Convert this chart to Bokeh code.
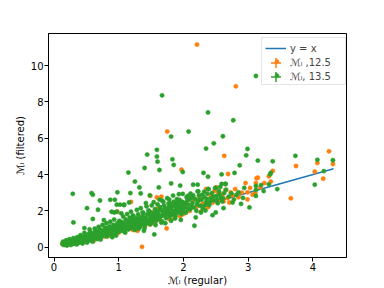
from bokeh.plotting import figure
from bokeh.models import Range1d, Legend, LegendItem, FixedTicker
from bokeh.embed import file_html
from bokeh.resources import INLINE

# ---------------- data ----------------
x_ticks = [0, 1, 2, 3, 4]
y_ticks = [0, 2, 4, 6, 8, 10]
yx_line = [0.12, 4.32]

green_band_x = [0.13, 0.14, 0.15, 0.16, 0.18, 0.19, 0.20, 0.21, 0.22, 0.24, 0.25, 0.26, 0.27, 0.28, 0.30, 0.31, 0.33, 0.34, 0.35, 0.36, 0.37, 0.39, 0.40, 0.41, 0.42, 0.43, 0.44, 0.45, 0.46, 0.47, 0.48, 0.49, 0.50, 0.51,
                0.52, 0.53, 0.55, 0.55, 0.56, 0.58, 0.59, 0.60, 0.61, 0.62, 0.63, 0.64, 0.65, 0.67, 0.68, 0.69, 0.70, 0.71, 0.72, 0.73, 0.74, 0.75, 0.76, 0.77, 0.79, 0.80, 0.81, 0.82, 0.83, 0.85, 0.86, 0.87, 0.88, 0.89, 0.90, 0.91, 0.92, 0.93, 0.94, 0.95, 0.96, 0.97, 0.98, 0.99, 1.00,
                1.01, 1.02, 1.03, 1.05, 1.06, 1.07, 1.08, 1.09, 1.10, 1.11, 1.12, 1.13, 1.14, 1.15, 1.17, 1.18, 1.19, 1.20, 1.21, 1.22, 1.23, 1.24, 1.25, 1.26, 1.27, 1.28, 1.29, 1.30, 1.31, 1.32, 1.33, 1.34, 1.35, 1.36, 1.37, 1.38, 1.39, 1.40, 1.41, 1.42, 1.43, 1.44, 1.45, 1.46, 1.47, 1.48, 1.49, 1.50,
                1.51, 1.52, 1.53, 1.54, 1.55, 1.56, 1.57, 1.58, 1.59, 1.60, 1.61, 1.62, 1.63, 1.64, 1.65, 1.66, 1.67, 1.68, 1.69, 1.70, 1.71, 1.72, 1.73, 1.74, 1.75, 1.76, 1.77, 1.78, 1.79, 1.80, 1.81, 1.82, 1.83, 1.84, 1.85, 1.86, 1.87, 1.88, 1.89, 1.90, 1.91, 1.92, 1.93, 1.94, 1.95, 1.96, 1.97, 1.98, 1.99, 2.00,
                2.02, 2.04, 2.05, 2.06, 2.08, 2.10, 2.11, 2.12, 2.14, 2.16, 2.17, 2.18, 2.19, 2.20, 2.22, 2.23, 2.24, 2.26, 2.27, 2.28, 2.30, 2.32, 2.34, 2.35, 2.37, 2.39, 2.40, 2.42, 2.44, 2.45, 2.47, 2.49, 2.50, 2.51, 2.53, 2.55, 2.57, 2.58, 2.60, 2.62, 2.63, 2.65, 2.66, 2.70, 2.74, 2.76, 2.78, 2.82, 2.85, 2.89, 2.92, 2.94]
green_band_y = [0.17, 0.30, 0.12, 0.26, 0.20, 0.38, 0.09, 0.15, 0.28, 0.44, 0.22, 0.12, 0.33, 0.18, 0.50, 0.27, 0.38, 0.22, 0.15, 0.55, 0.31, 0.45, 0.26, 0.66, 0.55, 0.37, 0.20, 0.48, 0.30, 0.78, 0.62, 0.41, 0.55, 0.25,
                0.40, 0.72, 0.50, 0.98, 0.84, 0.44, 0.64, 0.30, 0.77, 0.52, 1.02, 0.93, 0.62, 0.45, 0.82, 1.12, 0.67, 0.98, 0.42, 0.56, 0.80, 1.22, 0.90, 0.64, 1.07, 0.74, 1.32, 0.58, 0.95, 0.82, 1.14, 1.40, 0.70, 0.99, 0.55, 0.88, 1.22, 1.52, 0.78, 1.05, 0.64, 0.93, 1.32, 1.12, 0.85,
                1.45, 1.20, 0.95, 1.38, 1.08, 1.68, 0.88, 1.26, 0.80, 1.52, 1.04, 1.82, 1.34, 0.98, 1.62, 1.22, 1.95, 1.44, 1.06, 1.75, 1.68, 1.32, 0.95, 1.14, 1.55, 2.05, 1.38, 1.80, 1.02, 1.20, 1.50, 2.15, 1.66, 1.28, 1.92, 1.88, 1.44, 1.05, 1.22, 1.60, 2.25, 1.78, 1.34, 2.02, 1.98, 1.52, 1.26, 1.70,
                2.30, 1.40, 1.85, 2.48, 1.60, 2.10, 1.22, 1.46, 1.75, 2.36, 2.00, 1.55, 2.62, 2.20, 1.70, 1.35, 1.42, 1.93, 2.50, 2.30, 1.77, 1.32, 1.60, 2.10, 2.70, 1.90, 2.40, 2.62, 1.67, 2.03, 1.45, 2.25, 1.80, 2.84, 2.50, 1.95, 1.58, 1.72, 2.17, 2.65, 2.35, 1.90, 2.92, 2.60, 2.07, 1.50, 1.83, 2.30, 2.00, 2.45,
                2.20, 1.90, 2.75, 2.58, 2.34, 2.08, 2.95, 2.72, 2.44, 2.18, 1.18, 2.66, 1.64, 2.00, 2.52, 3.07, 2.84, 2.28, 1.91, 2.62, 2.12, 2.76, 2.02, 2.48, 2.94, 3.20, 2.32, 2.68, 2.98, 1.76, 2.58, 3.26, 1.91, 2.82, 2.42, 3.08, 3.32, 2.72, 2.52, 2.15, 2.98, 3.48, 3.16, 2.78, 2.96, 2.46, 2.62, 2.88, 3.02, 2.38, 2.71, 3.26]

green_core_x = [0.155, 0.175, 0.195, 0.215, 0.235, 0.255, 0.275, 0.295, 0.315, 0.335, 0.355, 0.375, 0.395, 0.415, 0.435, 0.455, 0.475, 0.495, 0.515, 0.535, 0.555, 0.575, 0.595, 0.615, 0.635, 0.655, 0.675, 0.695, 0.715, 0.735, 0.755, 0.775, 0.795, 0.815, 0.835, 0.855, 0.875, 0.895, 0.915, 0.935, 0.955, 0.975, 0.995,
                1.015, 1.035, 1.055, 1.075, 1.095, 1.115, 1.135, 1.155, 1.175, 1.195, 1.215, 1.235, 1.255, 1.275, 1.295, 1.315, 1.335, 1.355, 1.375, 1.395, 1.415, 1.435, 1.455, 1.475, 1.495, 1.515, 1.535, 1.555, 1.575, 1.595, 1.615, 1.635, 1.655, 1.675, 1.695, 1.715, 1.735, 1.755, 1.775, 1.795, 1.815, 1.835, 1.855, 1.875, 1.895, 1.915, 1.935, 1.955, 1.975, 1.995,
                2.03, 2.07, 2.09, 2.13, 2.15, 2.21, 2.25, 2.29, 2.33, 2.36, 2.41, 2.46, 2.52, 2.56, 2.61]
green_core_y = [0.22, 0.14, 0.25, 0.33, 0.19, 0.30, 0.24, 0.36, 0.20, 0.30, 0.42, 0.24, 0.36, 0.46, 0.29, 0.40, 0.52, 0.33, 0.46, 0.58, 0.36, 0.55, 0.70, 0.48, 0.62, 0.78, 0.56, 0.72, 0.86, 0.64, 0.77, 0.94, 0.70, 0.86, 1.04, 0.74, 0.92, 1.10, 0.80, 0.98, 1.16, 0.86, 1.02,
                1.25, 0.90, 1.18, 1.32, 1.00, 1.24, 1.10, 1.42, 1.05, 1.30, 1.55, 1.18, 1.42, 1.24, 1.60, 1.35, 1.12, 1.48, 1.70, 1.30, 1.52, 1.38, 1.82, 1.42, 1.60, 1.88, 1.52, 1.74, 1.95, 1.58, 1.80, 1.66, 2.04, 1.74, 1.90, 2.15, 1.80, 1.98, 2.20, 1.85, 2.08, 1.95, 2.30, 2.02, 2.22, 2.46, 2.10, 2.28, 2.50, 2.15,
                2.42, 2.12, 2.62, 2.25, 2.85, 2.36, 2.60, 2.88, 2.30, 2.66, 2.50, 2.78, 2.62, 2.88, 2.70]

green_scatter_x = [0.29, 0.58, 0.60, 0.71, 0.98, 0.87, 0.94, 1.18, 1.32, 0.51, 0.68, 0.97, 1.02, 1.085, 0.89, 0.93, 0.97, 0.30, 0.60, 0.77, 0.47, 1.04, 1.08, 1.16, 1.42, 1.34, 1.48, 1.62, 1.81, 1.95, 1.67, 1.79, 1.88, 1.99, 2.07, 2.15, 2.22, 2.22, 2.50, 2.59, 2.65, 2.38, 2.32,
                   1.25, 1.15, 1.40, 1.63, 1.99, 1.83, 1.85, 1.59, 1.59, 1.60, 1.44, 2.31, 2.38, 2.59, 2.79, 2.87, 1.55, 1.39]
green_scatter_y = [2.94, 2.98, 2.89, 2.57, 3.02, 2.61, 2.61, 2.98, 3.29, 2.15, 2.06, 2.34, 2.34, 2.34, 1.95, 1.91, 1.95, 1.36, 1.55, 1.49, 1.05, 1.86, 2.32, 2.46, 2.43, 2.96, 2.85, 3.29, 3.51, 3.39, 2.56, 2.43, 2.43, 2.93, 2.83, 3.44, 3.44, 3.07, 3.26, 3.48, 3.48, 3.20, 3.05,
                   3.61, 4.11, 4.36, 4.25, 4.14, 4.84, 4.53, 5.36, 4.99, 4.71, 5.10, 4.09, 3.88, 4.01, 4.09, 4.51, 0.70, 0.90]

green_right_x = [2.99, 2.97, 3.15, 3.38, 3.73, 4.07, 4.31, 3.35, 3.34, 4.17, 4.03, 3.45, 3.02, 3.12, 3.12, 3.12, 3.20, 3.24, 3.32]
green_right_y = [5.41, 5.06, 4.77, 4.73, 5.03, 4.81, 4.79, 4.09, 4.01, 4.19, 3.44, 3.20, 2.19, 3.37, 3.15, 2.82, 3.42, 3.09, 3.46]

green_high_x = [3.12, 1.67, 2.38, 2.77, 2.08, 1.81, 2.61, 2.47, 2.35]
green_high_y = [9.43, 8.36, 7.42, 6.99, 6.37, 6.09, 6.11, 5.72, 5.43]

orange_x = [0.13, 0.16, 0.22, 0.30, 0.38, 0.45, 0.55, 0.62, 0.70, 0.78, 0.85, 0.92, 0.98, 1.00, 1.08, 1.15, 1.19, 1.22, 1.29, 1.30, 1.36, 1.40, 1.48, 1.49, 1.52, 1.55, 1.59, 1.60, 1.65, 1.66, 1.70, 1.74, 1.75, 1.78, 1.82, 1.86, 1.90, 1.95, 1.97, 2.00,
            2.01, 2.05, 2.10, 2.15, 2.20, 2.21, 2.25, 2.27, 2.30, 2.35, 2.38, 2.42, 2.45, 2.48, 2.51, 2.54, 2.56, 2.60, 2.62, 2.63, 2.65, 2.68, 2.69, 2.71, 2.73, 2.76, 2.80, 2.81, 2.85, 2.90,
            2.96, 2.99, 2.99, 3.03, 3.07, 3.11, 3.12, 3.13, 3.15, 3.19, 3.25, 3.32, 3.35, 3.38, 3.66, 3.74, 4.03, 4.07, 4.16, 4.25, 4.31]
orange_y = [0.20, 0.14, 0.24, 0.19, 0.28, 0.33, 0.43, 0.38, 0.52, 0.58, 0.65, 0.74, 1.95, 0.80, 0.92, 1.00, 2.49, 0.95, 0.90, 1.15, 0.02, 1.20, 1.25, 2.83, 1.92, 1.30, 2.74, 2.12, 1.45, 2.78, 1.96, 1.03, 6.37, 1.55, 2.35, 1.60, 2.00, 1.70, 4.27, 1.82,
            1.91, 2.35, 2.00, 2.60, 2.20, 11.16, 2.70, 1.95, 2.40, 3.20, 2.20, 2.85, 2.45, 3.10, 3.29, 3.02, 2.60, 2.90, 2.52, 5.03, 3.15, 2.70, 4.03, 2.46, 3.02, 2.85, 3.20, 8.86, 2.75, 3.00,
            3.53, 3.02, 2.63, 3.26, 2.89, 2.98, 3.53, 3.79, 3.83, 3.29, 3.53, 3.90, 3.61, 4.20, 2.69, 4.47, 4.16, 4.64, 3.77, 5.28, 4.58]

green_x = green_band_x + green_core_x + green_scatter_x + green_right_x + green_high_x
green_y = green_band_y + green_core_y + green_scatter_y + green_right_y + green_high_y

legend_labels = ["y = x", "ℳₗ ,12.5", "ℳₗ, 13.5"]

BLUE, ORANGE, GREEN = "#1f77b4", "#ff7f0e", "#2ca02c"
FONT = "DejaVu Sans"
FS = "10px"
NAN = float("nan")

p = figure(width=384, height=288, output_backend="svg", toolbar_location=None,
           x_range=Range1d(-0.085, 4.52), y_range=Range1d(-0.57, 11.77),
           min_border_left=48, min_border_right=38, min_border_top=33, min_border_bottom=31)
p.grid.visible = False
p.outline_line_color = "black"
p.outline_line_width = 1
p.outline_line_alpha = 1
p.background_fill_color = "white"
p.border_fill_color = "white"

line_r = p.line(yx_line, yx_line, line_color=BLUE, line_width=1.5)
o_r = p.scatter(orange_x, orange_y, size=4.3, marker="circle", fill_color=ORANGE, line_color=ORANGE, line_width=0.5)
g_r = p.scatter(green_x, green_y, size=4.3, marker="circle", fill_color=GREEN, line_color=GREEN, line_width=0.5)
# legend-only error-bar crosses (NaN positions: nothing drawn in the plot)
o_c = p.scatter(x=[NAN], y=[NAN], marker="cross", size=10, line_color=ORANGE, line_width=1.5)
g_c = p.scatter(x=[NAN], y=[NAN], marker="cross", size=10, line_color=GREEN, line_width=1.5)

for ax in (p.xaxis[0], p.yaxis[0]):
    ax.major_label_text_font = FONT
    ax.major_label_text_font_size = FS
    ax.major_label_text_color = "black"
    ax.axis_label_text_font = FONT
    ax.axis_label_text_font_size = FS
    ax.axis_label_text_font_style = "normal"
    ax.axis_label_text_color = "black"
    ax.minor_tick_line_color = None
    ax.major_tick_in = 0
    ax.major_tick_out = 4
    ax.major_tick_line_color = "black"
    ax.axis_line_color = "black"
    ax.major_label_standoff = 1
p.xaxis.axis_label_standoff = 1
p.yaxis.axis_label_standoff = 2

p.xaxis.ticker = FixedTicker(ticks=x_ticks)
p.yaxis.ticker = FixedTicker(ticks=y_ticks)
p.xaxis.axis_label = "ℳₗ (regular)"
p.yaxis.axis_label = "ℳₗ (filtered)"

# frame offsets for legend placement (bottom-left of frame = (48, 257) on the page)
FL, FB = 48, 257

# legend box with the point markers
legend_bg = Legend(items=[
    LegendItem(label=" ", renderers=[]),
    LegendItem(label=" ", renderers=[o_r]),
    LegendItem(label=" ", renderers=[g_r]),
], location=(261 - FL, FB - 85.3))
legend_bg.label_text_font_size = "1px"
legend_bg.label_height = 10
legend_bg.glyph_height = 10
legend_bg.glyph_width = 21
legend_bg.label_width = 54
legend_bg.label_standoff = 0
legend_bg.spacing = 4
legend_bg.padding = 4
legend_bg.border_line_color = "#cccccc"
legend_bg.border_line_width = 1
legend_bg.background_fill_alpha = 0.8

# legend texts and the y = x line
legend = Legend(items=[
    LegendItem(label=legend_labels[0], renderers=[line_r]),
    LegendItem(label=legend_labels[1], renderers=[]),
    LegendItem(label=legend_labels[2], renderers=[]),
], location=(265 - FL, FB - 83.3))
legend.label_text_font = FONT
legend.label_text_font_size = FS
legend.label_height = 14
legend.glyph_height = 14
legend.glyph_width = 21
legend.label_standoff = 4
legend.spacing = 0
legend.padding = 0
legend.border_line_alpha = 0
legend.background_fill_alpha = 0

def cross_legend(renderer, center_y):
    lg = Legend(items=[LegendItem(label=" ", renderers=[renderer])],
                location=(263 - FL, FB - (center_y + 12.5)))
    lg.label_text_font_size = "1px"
    lg.glyph_height = 25
    lg.glyph_width = 25
    lg.label_height = 25
    lg.label_width = 0
    lg.label_standoff = 0
    lg.padding = 0
    lg.spacing = 0
    lg.border_line_alpha = 0
    lg.background_fill_alpha = 0
    return lg

p.add_layout(legend_bg)
p.add_layout(cross_legend(o_c, 62.6))
p.add_layout(cross_legend(g_c, 76.6))
p.add_layout(legend)

open("out.html", "w").write(file_html(p, INLINE))
